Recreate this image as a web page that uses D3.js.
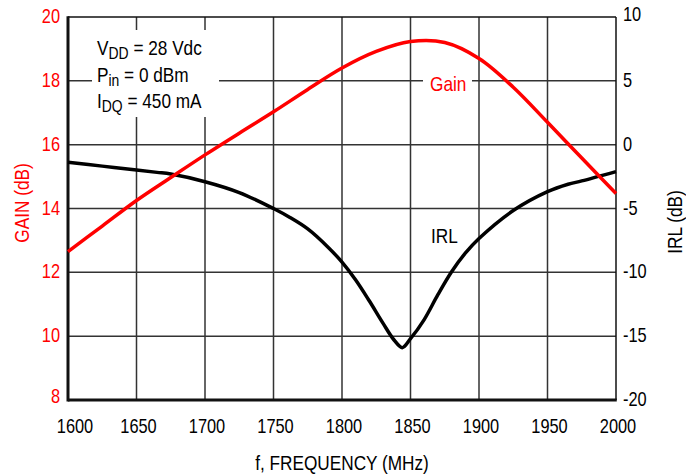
<!DOCTYPE html>
<html>
<head>
<meta charset="utf-8">
<script src="https://cdn.jsdelivr.net/npm/d3@7"></script>
<style>
  body { margin: 0; background: #fff; }
  svg text { font-family: "Liberation Sans", Arial, sans-serif; }
</style>
</head>
<body>
<svg id="chart" width="686" height="476"></svg>
<script>
// gain curve (left axis, dB)
var gainFreq = [1600, 1625, 1650, 1675, 1700, 1725, 1750, 1775, 1800, 1825, 1850, 1875, 1900, 1925, 1950, 1975, 2000];
var gainVals = [12.65, 13.45, 14.25, 14.97, 15.68, 16.36, 17.03, 17.73, 18.4, 18.92, 19.23, 19.2, 18.7, 17.8, 16.7, 15.58, 14.47];

// input return loss (right axis, dB)
var irlFreq = [1600, 1625, 1650, 1665, 1675, 1700, 1725, 1750, 1762, 1775, 1790, 1800, 1810, 1820, 1830, 1838, 1844, 1850, 1860, 1870, 1880, 1890, 1900, 1925, 1950, 1965, 1975, 2000];
var irlVals = [-1.38, -1.68, -1.98, -2.17, -2.3, -2.9, -3.75, -5.0, -5.7, -6.6, -8.05, -9.2, -10.6, -12.25, -14.0, -15.3, -15.9, -15.2, -13.7, -11.75, -9.95, -8.5, -7.35, -5.16, -3.68, -3.1, -2.84, -2.11];

var xTicks = [1600, 1650, 1700, 1750, 1800, 1850, 1900, 1950, 2000];
var gainTicks = [8, 10, 12, 14, 16, 18, 20];
var irlTicks = [-20, -15, -10, -5, 0, 5, 10];

var RED = "#ff0000";
var NARROW = 0.82;   // fake a condensed face
var svg = d3.select("#chart");

var pLeft = 68, pRight = 616, pTop = 17, pBottom = 400;

var x = d3.scaleLinear().domain([1600, 2000]).range([pLeft, pRight]);
var yG = d3.scaleLinear().domain([8, 20]).range([pBottom, pTop]);
var yR = d3.scaleLinear().domain([-20, 10]).range([pBottom, pTop]);

function place(px, py, rot){
  return "translate(" + px + "," + py + ")" + (rot ? " rotate(" + rot + ")" : "") + " scale(" + NARROW + ",1)";
}

// grid
var grid = svg.append("g").attr("stroke", "#333").attr("stroke-width", 1.5);
grid.selectAll("line.v").data(xTicks.slice(1, -1)).enter().append("line")
  .attr("x1", d => x(d)).attr("x2", d => x(d))
  .attr("y1", pTop).attr("y2", pBottom);
grid.selectAll("line.h").data(gainTicks.slice(1, -1)).enter().append("line")
  .attr("x1", pLeft).attr("x2", pRight)
  .attr("y1", d => yG(d)).attr("y2", d => yG(d));

// frame: thin top/right, thick left/bottom
svg.append("line").attr("x1", pLeft).attr("x2", pRight).attr("y1", pTop).attr("y2", pTop)
  .attr("stroke", "#111").attr("stroke-width", 1.5);
svg.append("line").attr("x1", pRight).attr("x2", pRight).attr("y1", pTop).attr("y2", pBottom)
  .attr("stroke", "#111").attr("stroke-width", 1.5);
svg.append("line").attr("x1", pLeft).attr("x2", pLeft).attr("y1", pTop - 0.75).attr("y2", pBottom + 1.5)
  .attr("stroke", "#111").attr("stroke-width", 3);
svg.append("line").attr("x1", pLeft).attr("x2", pRight + 0.75).attr("y1", pBottom).attr("y2", pBottom)
  .attr("stroke", "#111").attr("stroke-width", 3);

// white boxes behind labels
svg.append("rect").attr("x", 92).attr("y", 30).attr("width", 127).attr("height", 87).attr("fill", "#fff");
svg.append("rect").attr("x", 423).attr("y", 70).attr("width", 49).attr("height", 26).attr("fill", "#fff");

// curves
var gainLine = d3.line().x((d, i) => x(gainFreq[i])).y(d => yG(d)).curve(d3.curveCatmullRom.alpha(0.5));
var irlLine = d3.line().x((d, i) => x(irlFreq[i])).y(d => yR(d)).curve(d3.curveCatmullRom.alpha(0.5));

svg.append("path").attr("d", irlLine(irlVals))
  .attr("fill", "none").attr("stroke", "#000").attr("stroke-width", 3.5).attr("stroke-linejoin", "round");
svg.append("path").attr("d", gainLine(gainVals))
  .attr("fill", "none").attr("stroke", RED).attr("stroke-width", 3.5).attr("stroke-linejoin", "round");

// tick labels
var fs = 20;
svg.append("g").selectAll("text").data(xTicks).enter().append("text")
  .attr("transform", (d, i) => place(x(d) + (i == 0 ? 7 : 2), 433))
  .attr("text-anchor", "middle").attr("font-size", fs).attr("fill", "#000")
  .text(d => d);
svg.append("g").selectAll("text").data(gainTicks).enter().append("text")
  .attr("transform", d => place(60, yG(d) + (d == 8 ? 3 : 6)))
  .attr("text-anchor", "end").attr("font-size", fs).attr("fill", RED)
  .text(d => d);
svg.append("g").selectAll("text").data(irlTicks).enter().append("text")
  .attr("transform", d => place(623, yR(d) + (d == 10 ? 4 : 6)))
  .attr("text-anchor", "start").attr("font-size", fs).attr("fill", "#000")
  .text(d => d < 0 ? "-" + (-d) : d);

// axis titles
svg.append("text").attr("transform", place(29, 203, -90))
  .attr("text-anchor", "middle").attr("font-size", 21).attr("fill", RED)
  .text("GAIN (dB)");
svg.append("text").attr("transform", place(682, 222, -90))
  .attr("text-anchor", "middle").attr("font-size", 21).attr("fill", "#000")
  .text("IRL (dB)");
svg.append("text").attr("transform", place(342, 470))
  .attr("text-anchor", "middle").attr("font-size", 21).attr("fill", "#000")
  .text("f, FREQUENCY (MHz)");

// curve labels
svg.append("text").attr("transform", place(430, 91)).attr("font-size", 21).attr("fill", RED).text("Gain");
svg.append("text").attr("transform", place(431, 243)).attr("font-size", 21).attr("fill", "#000").text("IRL");

// conditions box
var cond = [
  ["V", "DD", " = 28 Vdc"],
  ["P", "in", " = 0 dBm"],
  ["I", "DQ", " = 450 mA"]
];
var lg = svg.append("g").attr("font-size", 21).attr("fill", "#000");
cond.forEach(function(c, i){
  var t = lg.append("text").attr("transform", place(97, 55 + i * 26.5));
  t.append("tspan").text(c[0]);
  t.append("tspan").attr("dy", 4).attr("font-size", 17).text(c[1]);
  t.append("tspan").attr("dy", -4).text(c[2]);
});
</script>
</body>
</html>
